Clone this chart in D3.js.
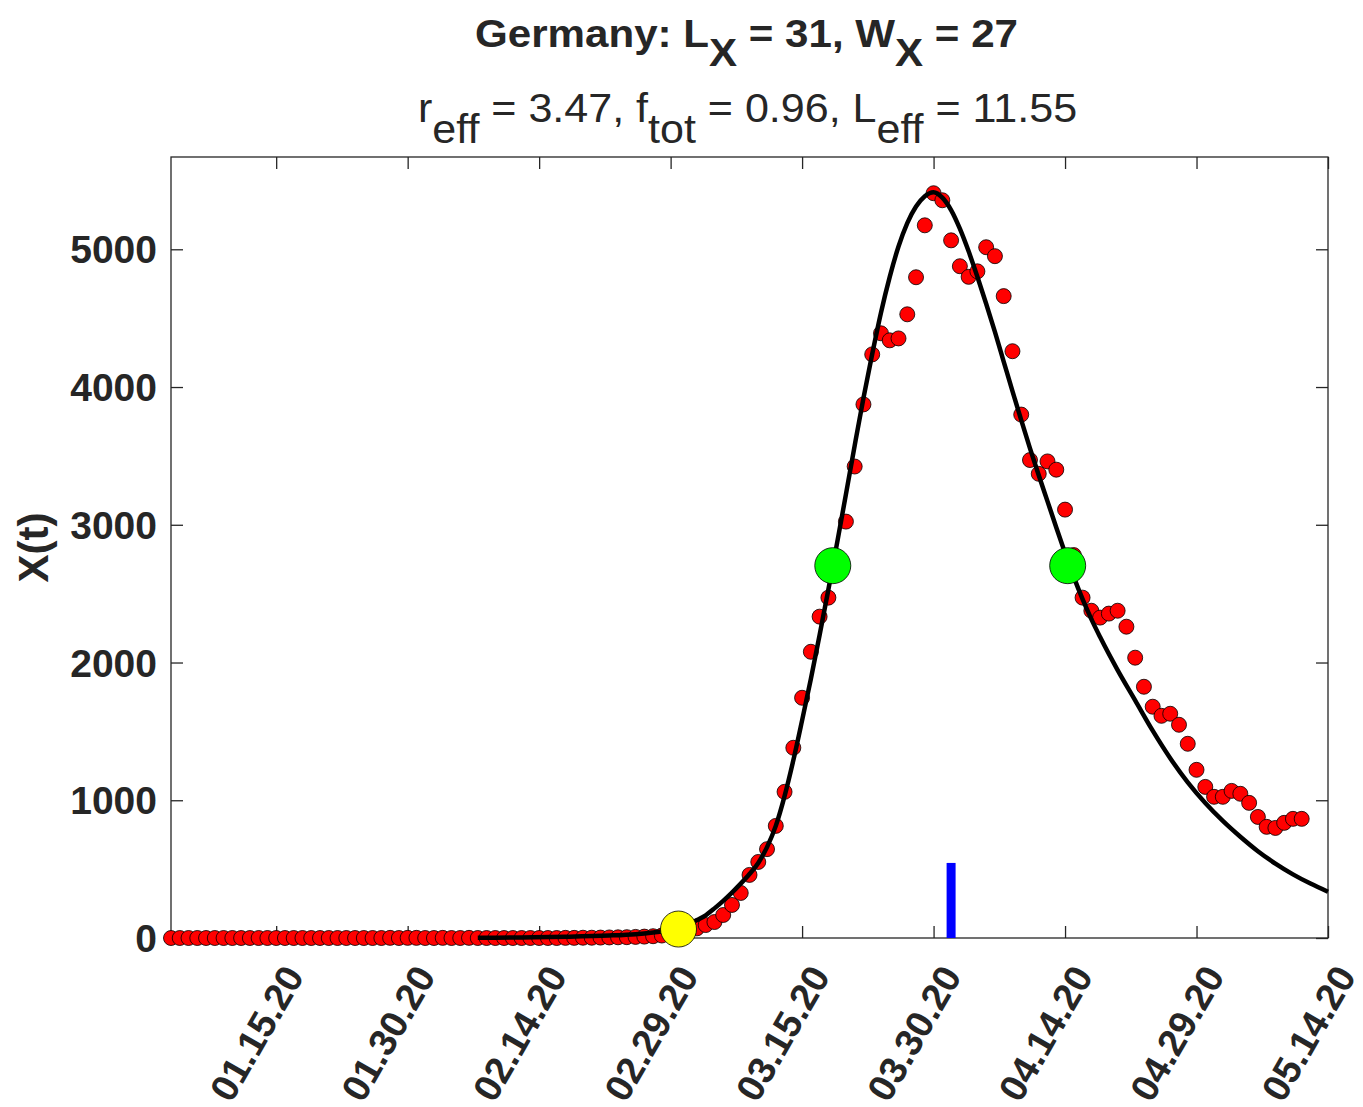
<!DOCTYPE html>
<html lang="en">

<head>
    <meta charset="UTF-8">
    <title>Germany</title>
    <script src="https://cdn.jsdelivr.net/npm/d3@7"></script>
    <style>
        * {
            margin: 0;
            padding: 0;
        }

        body {
            background: #fff;
        }

        text {
            font-family: "Liberation Sans", Arial, Helvetica, sans-serif;
            fill: #262626;
        }
    </style>
</head>

<body>
    <div id="chart"></div>
    <script>
        // daily values, one per day starting at startDate
        const startDate = "2020-01-03";
        const caseValues = [
            0, 0, 0, 0, 0, 0, 0, 0, 0, 0, 0, 0, 0, 0, 0, 0, 0, 0, 0, 0, 0, 0, 0, 0,
            0, 1, 0, 1, 1, 0, 0, 1, 0, 0, 1, 0, 0, 0, 0, 0, 0, 0, 0, 0, 0, 1,
            1, 2, 2, 3, 4, 5, 6, 8, 10, 13, 18, 25, 35, 50, 70,
            94, 116, 167, 240, 327, 458, 552, 645, 814, 1061, 1381, 1744, 2078, 2333, 2471,
            2720, 3023, 3423, 3874, 4237, 4390, 4339, 4353, 4528, 4797, 5174, 5407, 5356, 5065, 4877,
            4800, 4840, 5015, 4950, 4660, 4260, 3800, 3470, 3370, 3460, 3400, 3110, 2780, 2471, 2376,
            2326, 2355, 2376, 2260, 2035, 1824, 1679, 1613, 1628, 1548, 1410, 1221, 1097, 1025, 1025,
            1068, 1047, 981, 879, 807, 799, 836, 865, 865
        ];

        // fitted curve (day offset from startDate, value)
        const curveDays = [35, 40, 45, 50, 53, 55, 57,
            58, 59, 60, 61, 62, 63, 64, 65, 66, 67,
            68, 69, 70, 71, 72, 73, 74, 75, 76, 77,
            78, 79, 80, 81, 82, 83, 84, 85, 86, 87,
            88, 89, 90, 91, 92, 93, 94, 95, 96, 97,
            98, 99, 100, 101, 102, 103, 104, 105,
            106, 108, 110, 112, 114, 116, 118, 120, 122, 124, 126, 128, 130, 132];
        const curveValues = [1, 4, 9, 18, 28, 40, 56,
            72, 98, 130, 165, 215, 270, 330, 395, 465, 545,
            660, 814, 1030, 1290, 1580, 1880, 2200, 2530, 2870, 3220,
            3575, 3920, 4240, 4540, 4800, 5020, 5190, 5310, 5385, 5414,
            5375, 5285, 5150, 4985, 4800, 4605, 4400, 4185, 3970, 3760,
            3555, 3360, 3170, 2980, 2795, 2620, 2460, 2315,
            2185, 1945, 1725, 1505, 1305, 1130, 980, 850, 735, 630, 540, 462, 395, 336];

        const yellowDay = [57.9];
        const yellowValue = [65];
        const greenDays = [75.5, 102.3];
        const greenValues = [2703, 2703];
        const blueDay = [89];
        const blueValue = [545];

        const endDate = "2020-05-14";
        const xTickDates = ["2020-01-15", "2020-01-30", "2020-02-14", "2020-02-29", "2020-03-15",
            "2020-03-30", "2020-04-14", "2020-04-29", "2020-05-14"];
        const yTicks = [0, 1000, 2000, 3000, 4000, 5000];
        const yMax = 5670;

        //画布
        const svgWidth = 1363;
        const svgHeight = 1107;
        const margin = { top: 157, right: 35, bottom: 169, left: 171 };
        const plotW = svgWidth - margin.left - margin.right;
        const plotH = svgHeight - margin.top - margin.bottom;
        const tickLen = 12;

        const parse = d3.utcParse("%Y-%m-%d");
        const start = parse(startDate);
        const dayToDate = d => new Date(start.getTime() + d * 864e5);

        const svg = d3.select('#chart')
            .append('svg')
            .attr('width', svgWidth)
            .attr('height', svgHeight);

        const x = d3.scaleUtc()
            .domain([start, parse(endDate)])
            .range([margin.left, margin.left + plotW]);

        const y = d3.scaleLinear()
            .domain([0, yMax])
            .range([margin.top + plotH, margin.top]);

        // 坐标轴（内侧刻度，四边）
        const xTicks = xTickDates.map(parse);
        const fmt = d3.utcFormat("%m.%d.%y");

        const xAxisG = svg.append('g')
            .attr('transform', `translate(0,${margin.top + plotH})`)
            .call(d3.axisBottom(x).tickValues(xTicks).tickSize(-tickLen).tickFormat(''));
        const xTopG = svg.append('g')
            .attr('transform', `translate(0,${margin.top})`)
            .call(d3.axisTop(x).tickValues(xTicks).tickSize(-tickLen).tickFormat(''));
        const yAxisG = svg.append('g')
            .attr('transform', `translate(${margin.left},0)`)
            .call(d3.axisLeft(y).tickValues(yTicks).tickSize(-tickLen).tickFormat(''));
        const yRightG = svg.append('g')
            .attr('transform', `translate(${margin.left + plotW},0)`)
            .call(d3.axisRight(y).tickValues(yTicks).tickSize(-tickLen).tickFormat(''));

        [xAxisG, xTopG, yAxisG, yRightG].forEach(g => {
            g.select('.domain').remove();
            g.selectAll('line').attr('stroke', '#262626').attr('stroke-width', 1.3);
        });

        svg.append('rect')
            .attr('x', margin.left)
            .attr('y', margin.top)
            .attr('width', plotW)
            .attr('height', plotH)
            .attr('fill', 'none')
            .attr('stroke', '#262626')
            .attr('stroke-width', 1.3);

        // y tick labels
        svg.append('g')
            .selectAll('text')
            .data(yTicks)
            .enter()
            .append('text')
            .attr('x', margin.left - 14)
            .attr('y', d => y(d))
            .attr('dy', '0.36em')
            .attr('text-anchor', 'end')
            .attr('font-size', '39px')
            .attr('font-weight', 'bold')
            .text(d => d);

        // x tick labels, rotated
        svg.append('g')
            .selectAll('text')
            .data(xTicks)
            .enter()
            .append('text')
            .attr('transform', d => `translate(${x(d) + 29},${margin.top + plotH + 38}) rotate(-60)`)
            .attr('text-anchor', 'end')
            .attr('font-size', '38px')
            .attr('font-weight', 'bold')
            .text(d => fmt(d));

        // y label
        svg.append('text')
            .attr('transform', `translate(33,${margin.top + plotH / 2}) rotate(-90)`)
            .attr('text-anchor', 'middle')
            .attr('dy', '0.36em')
            .attr('font-size', '42px')
            .attr('font-weight', 'bold')
            .text('X(t)');

        // 标题
        const cx = margin.left + plotW / 2;
        const title = svg.append('text')
            .attr('transform', `translate(${cx - 3},47) scale(1.08,1)`)
            .attr('text-anchor', 'middle')
            .attr('font-size', '39px')
            .attr('font-weight', 'bold')
            .attr('fill', '#000');
        title.append('tspan').text('Germany: L');
        title.append('tspan').attr('dy', 19).text('X');
        title.append('tspan').attr('dy', -19).text(' = 31, W');
        title.append('tspan').attr('dy', 19).text('X');
        title.append('tspan').attr('dy', -19).text(' = 27');

        const sub = svg.append('text')
            .attr('transform', `translate(${cx - 2},122) scale(1.05,1)`)
            .attr('text-anchor', 'middle')
            .attr('font-size', '41px')
            .attr('fill', '#000');
        sub.append('tspan').text('r');
        sub.append('tspan').attr('dy', 21).text('eff');
        sub.append('tspan').attr('dy', -21).text(' = 3.47, f');
        sub.append('tspan').attr('dy', 21).text('tot');
        sub.append('tspan').attr('dy', -21).text(' = 0.96, L');
        sub.append('tspan').attr('dy', 21).text('eff');
        sub.append('tspan').attr('dy', -21).text(' = 11.55');

        // 数据点
        svg.append('g')
            .selectAll('circle')
            .data(caseValues)
            .enter()
            .append('circle')
            .attr('cx', (d, i) => x(dayToDate(i)))
            .attr('cy', d => y(d))
            .attr('r', 7.5)
            .attr('fill', '#ff0000')
            .attr('stroke', '#000')
            .attr('stroke-width', 0.8);

        // 拟合曲线
        const line = d3.line()
            .x(d => x(dayToDate(d[0])))
            .y(d => y(d[1]))
            .curve(d3.curveMonotoneX);

        svg.append('path')
            .datum(curveDays.map((d, i) => [d, curveValues[i]]))
            .attr('d', line)
            .attr('fill', 'none')
            .attr('stroke', '#000')
            .attr('stroke-width', 4.5);

        // 蓝色竖线
        svg.append('g')
            .selectAll('line')
            .data(blueDay)
            .enter()
            .append('line')
            .attr('x1', d => x(dayToDate(d)))
            .attr('x2', d => x(dayToDate(d)))
            .attr('y1', y(0))
            .attr('y2', (d, i) => y(blueValue[i]))
            .attr('stroke', '#0000ff')
            .attr('stroke-width', 9);

        // 标记点
        svg.append('g')
            .selectAll('circle')
            .data(greenDays)
            .enter()
            .append('circle')
            .attr('cx', d => x(dayToDate(d)))
            .attr('cy', (d, i) => y(greenValues[i]))
            .attr('r', 18)
            .attr('fill', '#00ff00')
            .attr('stroke', '#000')
            .attr('stroke-width', 0.8);

        svg.append('g')
            .selectAll('circle')
            .data(yellowDay)
            .enter()
            .append('circle')
            .attr('cx', d => x(dayToDate(d)))
            .attr('cy', (d, i) => y(yellowValue[i]))
            .attr('r', 18)
            .attr('fill', '#ffff00')
            .attr('stroke', '#000')
            .attr('stroke-width', 0.8);
    </script>
</body>

</html>
